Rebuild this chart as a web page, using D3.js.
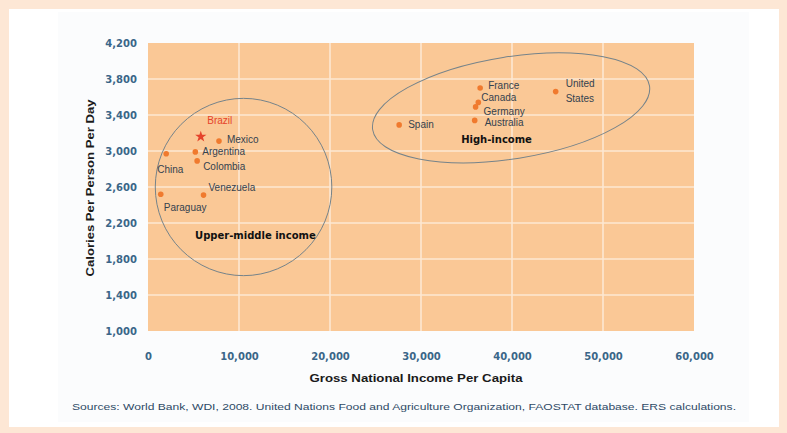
<!DOCTYPE html>
<html>
<head>
<meta charset="utf-8">
<script src="https://cdn.jsdelivr.net/npm/d3@7"></script>
<style>
  html, body { margin: 0; padding: 0; background: #fde7d5; }
  svg { display: block; }
</style>
</head>
<body>
<div id="chart"></div>
<script>
// country data: GNI per capita (US$) and calories per person per day
const countries = ["Brazil", "Mexico", "Argentina", "Colombia", "China", "Venezuela", "Paraguay",
                   "France", "Canada", "Germany", "Australia", "Spain", "United States"];
const gni      = [5800, 7800, 5200, 5400, 2000, 6100, 1400, 36500, 36300, 36000, 35900, 27600, 44800];
const calories = [3160, 3110, 2990, 2890, 2970, 2510, 2520, 3700, 3540, 3490, 3340, 3290, 3660];

const xTicks = [0, 10000, 20000, 30000, 40000, 50000, 60000];
const yTicks = [1000, 1400, 1800, 2200, 2600, 3000, 3400, 3800, 4200];

// income group annotations (ellipse centre / radii in data units)
const groupNames = ["Upper-middle income", "High-income"];
const groupCx    = [10500, 39900];
const groupCy    = [2600, 3480];
const groupRx    = [9700, 15400];
const groupRy    = [985, 567];
const groupRot   = [0, -9];
const groupLabelX = [11800, 38300];
const groupLabelY = [2060, 3130];

const sourceText = "Sources: World Bank, WDI, 2008.  United Nations Food and Agriculture Organization, FAOSTAT database. ERS calculations.";

const W = 787, H = 433;
const margin = {top: 43, right: 93, bottom: 102, left: 148},
    width = W - margin.left - margin.right,
    height = H - margin.top - margin.bottom;

const root = d3.select("#chart").append("svg")
    .attr("width", W)
    .attr("height", H);

// white panel
root.append("rect")
    .attr("x", 9).attr("y", 9).attr("width", 770).attr("height", 418)
    .attr("fill", "#ffffff");
root.append("rect")
    .attr("x", 58).attr("y", 12).attr("width", 691).attr("height", 410)
    .attr("fill", "#fbfcfd");

const svg = root.append("g")
    .attr("transform", `translate(${margin.left},${margin.top})`);

const x = d3.scaleLinear().domain([0, 60000]).range([0, width]);
const y = d3.scaleLinear().domain([1000, 4200]).range([height, 0]);

// plot background
svg.append("rect")
    .attr("width", width).attr("height", height)
    .attr("fill", "#fac896");

// grid
svg.selectAll("hgrid")
  .data(yTicks.slice(1, -1))
  .join("line")
    .attr("x1", 0).attr("x2", width)
    .attr("y1", d => y(d)).attr("y2", d => y(d))
    .attr("stroke", "#fde8d2").attr("stroke-width", 1.6);
svg.selectAll("vgrid")
  .data(xTicks.slice(1, -1))
  .join("line")
    .attr("y1", 0).attr("y2", height)
    .attr("x1", d => x(d)).attr("x2", d => x(d))
    .attr("stroke", "#fde8d2").attr("stroke-width", 1.6);

// axes (labels only)
const tickFmt = d3.format(",");
const xAxis = svg.append("g")
    .attr("transform", `translate(0,${height})`)
    .call(d3.axisBottom(x).tickValues(xTicks).tickFormat(tickFmt).tickSize(0).tickPadding(22));
const yAxis = svg.append("g")
    .call(d3.axisLeft(y).tickValues(yTicks).tickFormat(tickFmt).tickSize(0).tickPadding(11));
[xAxis, yAxis].forEach(a => {
  a.select(".domain").remove();
  a.selectAll("text")
    .style("font-family", "'DejaVu Sans', sans-serif")
    .style("font-weight", "bold")
    .style("font-size", "10px")
    .attr("fill", "#3a6688");
});

// ellipses
svg.selectAll("groupEllipse")
  .data(groupNames.map((n, i) => ({name: n, cx: groupCx[i], cy: groupCy[i], rx: groupRx[i], ry: groupRy[i], rot: groupRot[i]})))
  .join("ellipse")
    .attr("transform", d => `translate(${x(d.cx)},${y(d.cy)}) rotate(${d.rot})`)
    .attr("rx", d => x(d.rx) - x(0))
    .attr("ry", d => y(1000) - y(1000 + d.ry))
    .attr("fill", "none")
    .attr("stroke", "#75838a")
    .attr("stroke-width", 1);

svg.selectAll("groupLabel")
  .data(groupNames.map((n, i) => ({name: n, x: groupLabelX[i], y: groupLabelY[i]})))
  .join("text")
    .attr("x", d => x(d.x))
    .attr("y", d => y(d.y))
    .attr("dy", "0.35em")
    .attr("text-anchor", "middle")
    .style("font-family", "'DejaVu Sans', sans-serif")
    .style("font-weight", "bold")
    .style("font-size", "10px")
    .attr("fill", "#111")
    .text(d => d.name);

const pts = countries.map((c, i) => ({name: c, gni: gni[i], cal: calories[i]}));

// label offsets (pixels) relative to each marker
const labelPos = {
  "Brazil":        {dx: 19,  dy: -16, anchor: "middle"},
  "Mexico":        {dx: 8,   dy: -2},
  "Argentina":     {dx: 7,   dy: 0},
  "Colombia":      {dx: 6,   dy: 6},
  "China":         {dx: -9,  dy: 16},
  "Venezuela":     {dx: 5,   dy: -8},
  "Paraguay":      {dx: 3,   dy: 13},
  "France":        {dx: 8,   dy: -3},
  "Canada":        {dx: 3,   dy: -5},
  "Germany":       {dx: 8,   dy: 5},
  "Australia":     {dx: 10,  dy: 2},
  "Spain":         {dx: 9,   dy: 0},
  "United States": {dx: 10,  dy: 0}
};

// markers
svg.selectAll("myPoints")
  .data(pts.filter(d => d.name !== "Brazil"))
  .join("circle")
    .attr("cx", d => x(d.gni))
    .attr("cy", d => y(d.cal))
    .attr("r", 2.8)
    .attr("fill", "#f07a2e");
svg.selectAll("brazilPoint")
  .data(pts.filter(d => d.name === "Brazil"))
  .join("path")
    .attr("transform", d => `translate(${x(d.gni)},${y(d.cal)})`)
    .attr("d", d3.symbol(d3.symbolStar, 40))
    .attr("fill", "#e5432b");

// labels
const labels = svg.selectAll("myLabels")
  .data(pts)
  .join("text")
    .attr("x", d => x(d.gni) + labelPos[d.name].dx)
    .attr("y", d => y(d.cal) + labelPos[d.name].dy)
    .attr("dy", "0.35em")
    .attr("text-anchor", d => labelPos[d.name].anchor || "start")
    .style("font-family", "'Liberation Sans', Arial, sans-serif")
    .style("font-size", "10px")
    .attr("fill", d => d.name === "Brazil" ? "#e5432b" : "#34424f");
labels.each(function(d) {
  const t = d3.select(this);
  if (d.name === "United States") {
    t.append("tspan").attr("x", x(d.gni) + 10).attr("dy", "-0.45em").text("United");
    t.append("tspan").attr("x", x(d.gni) + 10).attr("dy", "1.5em").text("States");
  } else {
    t.text(d.name);
  }
});

// axis titles
root.append("text")
    .attr("x", margin.left + width / 2 - 5)
    .attr("y", 382)
    .attr("text-anchor", "middle")
    .attr("textLength", 213)
    .attr("lengthAdjust", "spacingAndGlyphs")
    .style("font-family", "'Liberation Sans', Arial, sans-serif")
    .style("font-weight", "bold")
    .style("font-size", "11px")
    .attr("fill", "#1a1a1a")
    .text("Gross National Income Per Capita");

root.append("text")
    .attr("transform", "translate(94,188) rotate(-90)")
    .attr("text-anchor", "middle")
    .attr("textLength", 177)
    .attr("lengthAdjust", "spacingAndGlyphs")
    .style("font-family", "'Liberation Sans', Arial, sans-serif")
    .style("font-weight", "bold")
    .style("font-size", "11px")
    .attr("fill", "#1a1a1a")
    .text("Calories Per Person Per Day");

// source note
root.append("text")
    .attr("x", 72)
    .attr("y", 410)
    .attr("textLength", 664)
    .attr("lengthAdjust", "spacingAndGlyphs")
    .style("font-family", "'Liberation Sans Narrow', 'Liberation Sans', Arial, sans-serif")
    .style("font-size", "9.5px")
    .attr("fill", "#2e4a66")
    .text(sourceText);
</script>
</body>
</html>
